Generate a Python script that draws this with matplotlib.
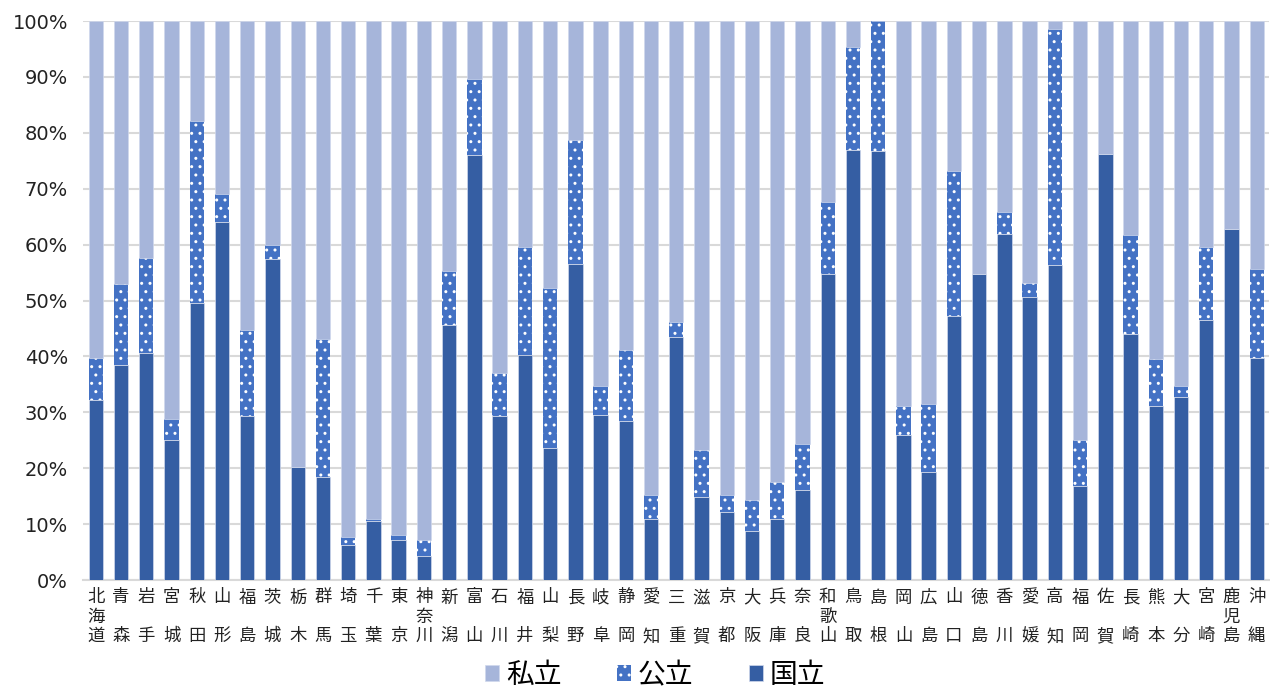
import matplotlib
matplotlib.use('Agg')
import matplotlib.pyplot as plt
import numpy as np

plt.rcParams['font.family'] = ['Noto Sans CJK JP', 'DejaVu Sans']

prefectures = ['北海道', '青森', '岩手', '宮城', '秋田', '山形', '福島', '茨城', '栃木', '群馬',
               '埼玉', '千葉', '東京', '神奈川', '新潟', '富山', '石川', '福井', '山梨', '長野',
               '岐阜', '静岡', '愛知', '三重', '滋賀', '京都', '大阪', '兵庫', '奈良', '和歌山',
               '鳥取', '島根', '岡山', '広島', '山口', '徳島', '香川', '愛媛', '高知', '福岡',
               '佐賀', '長崎', '熊本', '大分', '宮崎', '鹿児島', '沖縄']

# 国立 share (%)
national = [32.3, 38.5, 40.7, 25.0, 49.5, 64.0, 29.3, 57.5, 20.3, 18.4,
            6.3, 10.5, 7.1, 4.3, 45.7, 76.0, 29.3, 40.3, 23.7, 56.6,
            29.6, 28.5, 11.0, 43.5, 14.8, 12.2, 8.7, 10.9, 16.1, 54.8,
            77.0, 76.7, 26.0, 19.3, 47.3, 54.7, 61.9, 50.6, 56.4, 16.9,
            76.3, 44.1, 31.1, 32.7, 46.6, 62.8, 39.8]
# 公立 share (%)
public = [7.5, 14.5, 17.0, 3.8, 32.7, 5.0, 15.4, 2.5, 0.0, 24.7,
          1.4, 0.5, 0.9, 2.9, 9.6, 13.7, 7.7, 19.2, 28.6, 22.1,
          5.2, 12.6, 4.2, 2.7, 8.4, 3.0, 5.6, 6.7, 8.2, 12.8,
          18.3, 23.3, 5.2, 12.2, 25.8, 0.0, 3.9, 2.5, 42.2, 8.1,
          0.0, 17.6, 8.5, 2.1, 13.0, 0.0, 15.9]
# 私立 = remainder
private = [100 - n - p for n, p in zip(national, public)]

c_national = '#355EA3'
c_public = '#4472C4'
c_private = '#A6B5DA'

fig = plt.figure(figsize=(12.7, 6.89), dpi=100)
ax = fig.add_axes([0.0655, 0.158, 0.934, 0.8115])

x = np.arange(len(prefectures))
w = 0.57
national = np.array(national)
public = np.array(public)
private = np.array(private)

b1 = ax.bar(x, national, w, color=c_national, edgecolor='#D0D8EC', linewidth=0.5, zorder=3, label='国立')
b2 = ax.bar(x, public, w, bottom=national, color=c_public, edgecolor='white', linewidth=0,
            hatch='..', zorder=3, label='公立')
b3 = ax.bar(x, private, w, bottom=national + public, color=c_private, edgecolor='#D0D8EC',
            linewidth=0.5, zorder=3, label='私立')

ax.set_xlim(-0.5, len(prefectures) - 0.5)
ax.set_ylim(0, 100)
ax.set_yticks(np.arange(0, 101, 10))
ax.set_yticklabels([f'{v}%' for v in range(0, 101, 10)], fontsize=14, color='#222222',
                   family='DejaVu Sans')
ax.yaxis.grid(True, color='#D9D9D9', linewidth=1.5, zorder=0)
ax.set_axisbelow(True)
for s in ['top', 'right', 'left']:
    ax.spines[s].set_visible(False)
ax.spines['bottom'].set_color('#D9D9D9')
ax.spines['bottom'].set_linewidth(1.5)
ax.tick_params(axis='both', length=0)
ax.tick_params(axis='y', pad=11)

# 3-row vertical labels, 2-char names leave the middle row empty
labels = []
for p in prefectures:
    if len(p) == 3:
        labels.append('\n'.join(p))
    else:
        labels.append(p[0] + '\n\n' + p[1])
ax.set_xticks(x)
ax.set_xticklabels(labels, fontsize=12.5, color='#222222', linespacing=1.1, va='top')
ax.tick_params(axis='x', pad=6)

leg = fig.legend(handles=[b3, b2, b1], labels=['私立', '公立', '国立'], loc='center',
                 bbox_to_anchor=(0.516, 0.02), ncol=3, frameon=False, fontsize=20,
                 handlelength=0.5, handleheight=0.5, columnspacing=2.0, handletextpad=0.25,
                 borderpad=0)

fig.savefig('out.png', dpi=100)
